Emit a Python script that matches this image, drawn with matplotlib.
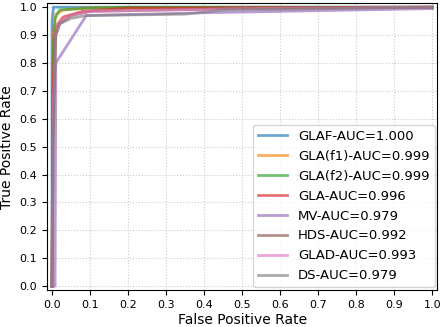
import matplotlib
matplotlib.use("Agg")
import matplotlib.pyplot as plt
import numpy as np

# ROC curves (fpr, tpr)
glaf_fpr = [0.0, 0.0, 0.004, 0.01, 1.0]
glaf_tpr = [0.0, 0.95, 1.0, 1.0, 1.0]

gla_f1_fpr = [0.0, 0.003, 0.01, 0.03, 0.1, 1.0]
gla_f1_tpr = [0.0, 0.9, 0.975, 0.99, 0.998, 1.0]

gla_f2_fpr = [0.0, 0.003, 0.008, 0.02, 0.1, 0.2, 1.0]
gla_f2_tpr = [0.0, 0.85, 0.96, 0.99, 0.997, 1.0, 1.0]

gla_fpr = [0.0, 0.002, 0.008, 0.015, 0.03, 0.08, 0.2, 1.0]
gla_tpr = [0.0, 0.7, 0.9, 0.94, 0.965, 0.985, 0.997, 1.0]

mv_fpr = [0.0, 0.008, 0.01, 0.09, 0.4, 1.0]
mv_tpr = [0.0, 0.0, 0.8, 0.97, 0.98, 0.995]

hds_fpr = [0.0, 0.003, 0.01, 0.02, 0.05, 0.1, 0.5, 1.0]
hds_tpr = [0.0, 0.6, 0.9, 0.94, 0.97, 0.985, 0.995, 1.0]

glad_fpr = [0.0, 0.003, 0.01, 0.02, 0.05, 0.1, 0.5, 1.0]
glad_tpr = [0.0, 0.65, 0.91, 0.945, 0.97, 0.985, 0.995, 1.0]

ds_fpr = [0.0, 0.003, 0.01, 0.02, 0.05, 0.09, 0.35, 0.45, 1.0]
ds_tpr = [0.0, 0.5, 0.9, 0.94, 0.96, 0.97, 0.975, 0.99, 1.0]

labels = ["GLAF-AUC=1.000", "GLA(f1)-AUC=0.999", "GLA(f2)-AUC=0.999",
          "GLA-AUC=0.996", "MV-AUC=0.979", "HDS-AUC=0.992",
          "GLAD-AUC=0.993", "DS-AUC=0.979"]
curves = [(glaf_fpr, glaf_tpr), (gla_f1_fpr, gla_f1_tpr), (gla_f2_fpr, gla_f2_tpr),
          (gla_fpr, gla_tpr), (mv_fpr, mv_tpr), (hds_fpr, hds_tpr),
          (glad_fpr, glad_tpr), (ds_fpr, ds_tpr)]
colors = ["tab:blue", "tab:orange", "tab:green", "tab:red",
          "tab:purple", "tab:brown", "tab:pink", "tab:gray"]

fig, ax = plt.subplots(figsize=(4.44, 3.27), dpi=100)
for (fpr, tpr), lab, c in zip(curves, labels, colors):
    ax.plot(fpr, tpr, color=c, lw=2, alpha=0.65, label=lab)

ticks = np.round(np.arange(0, 1.01, 0.1), 1)
ax.set_xticks(ticks)
ax.set_yticks(ticks)
ax.tick_params(labelsize=8)
ax.set_xlim(-0.013, 1.013)
ax.set_ylim(-0.014, 1.014)
ax.grid(True, linestyle=":", color="#cccccc")
ax.set_xlabel("False Positive Rate", fontsize=10, labelpad=2)
ax.set_ylabel("True Positive Rate", fontsize=10)
ax.legend(loc="lower right", fontsize=9.5, labelspacing=0.52,
          borderaxespad=0.2, handlelength=2.2)

fig.subplots_adjust(left=0.106, right=0.985, top=0.99, bottom=0.113)
fig.savefig("out.png")
